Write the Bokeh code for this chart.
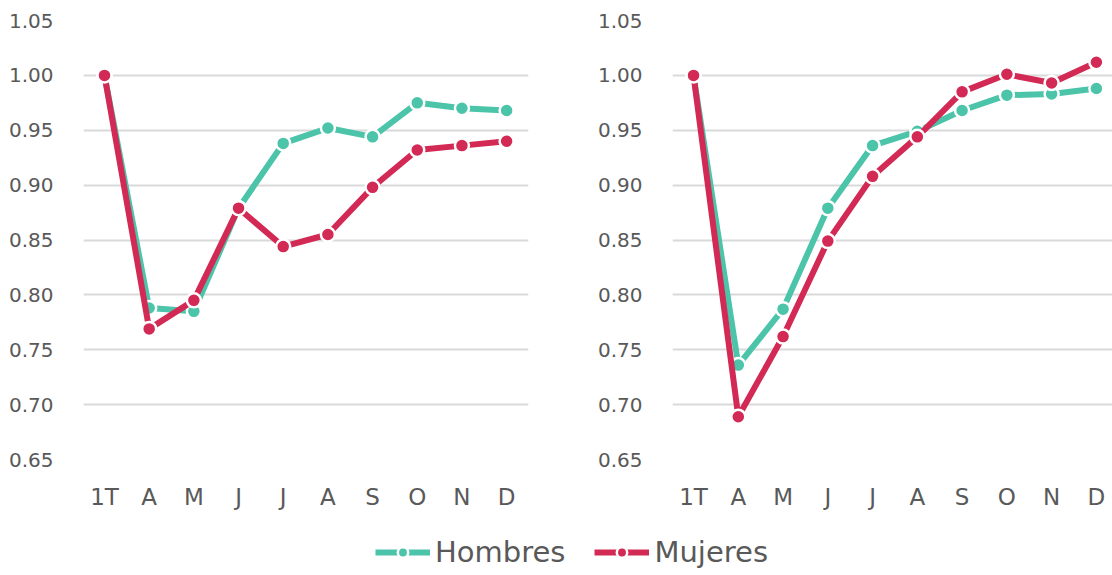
from bokeh.plotting import figure
from bokeh.layouts import column, row
from bokeh.models import (Range1d, FixedTicker, NumeralTickFormatter, Legend, LegendItem,
                          ColumnDataSource)
from bokeh.embed import file_html
from bokeh.resources import INLINE

months = ["1T", "A", "M", "J", "J", "A", "S", "O", "N", "D"]
y_ticks = [0.65, 0.70, 0.75, 0.80, 0.85, 0.90, 0.95, 1.00, 1.05]

left_hombres = [1.000, 0.788, 0.785, 0.879, 0.938, 0.952, 0.944, 0.975, 0.970, 0.968]
left_mujeres = [1.000, 0.769, 0.795, 0.879, 0.844, 0.855, 0.898, 0.932, 0.936, 0.940]
right_hombres = [1.000, 0.736, 0.787, 0.879, 0.936, 0.949, 0.968, 0.982, 0.983, 0.988]
right_mujeres = [1.000, 0.689, 0.762, 0.849, 0.908, 0.944, 0.985, 1.001, 0.993, 1.012]

TEAL = "#4BC4A9"
RED = "#D22A54"
GRID = "#D9D9D9"
TXT = "#595959"
FONT = "DejaVu Sans"


def make_fig(hombres, mujeres, x_end, border_left, border_right):
    p = figure(width=556, height=512, output_backend="svg", toolbar_location=None,
               x_range=Range1d(-0.47, x_end), y_range=Range1d(0.65, 1.05),
               min_border_left=border_left, min_border_right=border_right,
               min_border_top=20, min_border_bottom=46)
    p.outline_line_color = None
    p.background_fill_color = "white"
    p.xgrid.grid_line_color = None
    p.ygrid.grid_line_color = GRID
    p.ygrid.grid_line_width = 2
    p.ygrid.ticker = FixedTicker(ticks=y_ticks)

    p.yaxis.ticker = FixedTicker(ticks=y_ticks)
    p.yaxis.formatter = NumeralTickFormatter(format="0.00")
    p.xaxis.ticker = FixedTicker(ticks=list(range(len(months))))
    p.xaxis.major_label_overrides = {i: m for i, m in enumerate(months)}
    for ax in (p.xaxis, p.yaxis):
        ax.axis_line_color = None
        ax.major_tick_line_color = None
        ax.minor_tick_line_color = None
        ax.major_label_text_font = FONT
        ax.major_label_text_color = TXT
    p.yaxis.major_label_text_font_size = "20px"
    p.xaxis.major_label_text_font_size = "23px"
    p.yaxis.major_label_standoff = 24
    p.xaxis.major_label_standoff = 18

    xs = list(range(len(months)))
    for vals, col in ((hombres, TEAL), (mujeres, RED)):
        src = ColumnDataSource(dict(x=xs, y=vals))
        p.line("x", "y", source=src, line_color=col, line_width=6)
        p.scatter("x", "y", source=src, size=14, fill_color=col, line_color="white",
                  line_width=2.5)
    return p


p1 = make_fig(left_hombres, left_mujeres, 9.49, 83, 28)
p2 = make_fig(right_hombres, right_mujeres, 9.36, 116, 0)

# legend figure
p3 = figure(width=1112, height=63, output_backend="svg", toolbar_location=None,
            x_range=Range1d(0, 1), y_range=Range1d(0, 1),
            min_border_left=0, min_border_right=0, min_border_top=0, min_border_bottom=0)
p3.outline_line_color = None
p3.axis.visible = False
p3.grid.visible = False
items = []
for name, col in (("Hombres", TEAL), ("Mujeres", RED)):
    src = ColumnDataSource(dict(x=[float("nan")], y=[float("nan")]))
    r1 = p3.line("x", "y", source=src, line_color=col, line_width=6)
    r2 = p3.scatter("x", "y", source=src, size=11, fill_color=col, line_color="white",
                    line_width=2.5)
    items.append(LegendItem(label=name, renderers=[r1, r2]))
leg = Legend(items=items, orientation="horizontal", location=(375, 6),
             border_line_color=None, background_fill_alpha=0,
             label_text_font=FONT, label_text_font_size="29px", label_text_color=TXT,
             glyph_width=55, glyph_height=26, label_height=26, label_standoff=5,
             spacing=29, padding=0, margin=0)
p3.add_layout(leg, "center")

layout = column(row(p1, p2), p3)
open("out.html", "w").write(file_html(layout, INLINE))
